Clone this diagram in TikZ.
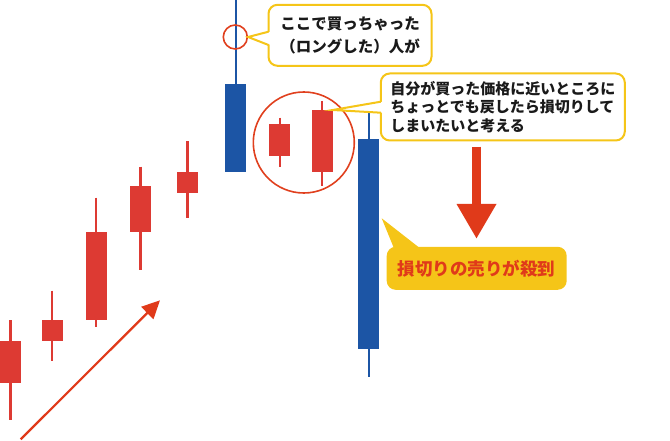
\documentclass[tikz,border=0pt]{standalone}
\usepackage{fontspec}
\newfontfamily\jp{Noto Sans CJK JP}
\usetikzlibrary{arrows.meta,calc}
\definecolor{candlered}{HTML}{DD3A33}
\definecolor{candleblue}{HTML}{1C55A5}
\definecolor{markred}{HTML}{E0401E}
\definecolor{arrowred}{HTML}{E03A1A}
\definecolor{notegold}{HTML}{F5C518}
\definecolor{notetext}{HTML}{1A1A1A}

\begin{document}
\begin{tikzpicture}[x=1pt,y=-1pt,
		body/.style={minimum width=21pt, inner sep=0pt, outer sep=0pt},
		wick/.style={line width=2.4pt},
		note/.style={rounded corners=9pt, align=left, inner sep=0pt, outer sep=0pt, text=notetext}]
		
		\useasboundingbox (0,0) rectangle (670,441);
		
		% Draw the red candles
		\foreach \name/\x/\wt/\bt/\bb/\wb in {c1/10.5/320/340.7/382.7/420, c2/52/290.7/320/340.7/361.3, c3/96/197.7/231.7/320/327.3, c4/140.5/166.7/186/231.7/270, c5/187.5/141.3/172/193/218.3, c6/279.8/117.7/124/156/166.7, c7/322.2/101/110/172/186}{
			\draw[wick, candlered] (\x,\wt) -- (\x,\wb);
			\node[body, fill=candlered, minimum height={\bb-\bt}] (\name) at (\x,{(\bt+\bb)/2}) {};
		}
		
		% Draw the blue candles
		\draw[wick, candleblue, line width=2pt] (235.5,0) -- (235.5,172);
		\node[body, fill=candleblue, minimum height=88pt] (b1) at (235.5,128) {};
		\draw[wick, candleblue, line width=2pt] (368.5,113.3) -- (368.5,376.7);
		\node[body, fill=candleblue, minimum width=21.6pt, minimum height=209.4pt] (b2) at (368.5,244) {};
		
		% Mark the buying points
		\node[draw=markred, line width=1.6pt, circle, minimum size=24pt, inner sep=0pt] (buy) at (235.3,37) {};
		\node[draw=markred, line width=1.6pt, circle, minimum size=101pt, inner sep=0pt] (zone) at (303.8,142.5) {};
		
		% Rising trend
		\coordinate (riseStart) at (20.7,439.3);
		\coordinate (riseEnd) at (160,300.3);
		\draw[arrowred, line width=2.2pt, -{Triangle[length=18pt,width=17pt]}] (riseStart) -- (riseEnd);
		
		% Place the notes
		\node[note, draw=notegold, line width=2pt, fill=white, minimum width=163pt, minimum height=61pt,
			font=\jp\bfseries\fontsize{15.5}{23}\selectfont] (buyNote) at (350,35.3) {ここで買っちゃった\\（ロングした）人が};
		\fill[white] ($(buyNote.west)+(2.5,-3.6)$) -- (buy.east) -- ($(buyNote.west)+(2.5,9.7)$) -- cycle;
		\draw[notegold, line width=2pt] ($(buyNote.west)+(0,-3.6)$) -- (buy.east) -- ($(buyNote.west)+(0,9.7)$);
		
		\node[note, draw=notegold, line width=2pt, fill=white, minimum width=244pt, minimum height=67pt,
			font=\jp\bfseries\fontsize{15}{18.5}\selectfont] (sellNote) at (502.8,107) {自分が買った価格に近いところに\\ちょっとでも戻したら損切りして\\しまいたいと考える};
		\fill[white] ($(sellNote.west)+(2.5,-5.3)$) -- (c7.north east) -- ($(sellNote.west)+(2.5,5.7)$) -- cycle;
		\draw[notegold, line width=2pt] ($(sellNote.west)+(0,-5.3)$) -- (c7.north east) -- ($(sellNote.west)+(0,5.7)$);
		
		\node[note, fill=notegold, text=arrowred, minimum width=180pt, minimum height=43pt,
			font=\jp\bfseries\fontsize{17.5}{20}\selectfont] (rushNote) at (476.7,268.3) {損切りの売りが殺到};
		\coordinate (rushTip) at (381.7,218.3);
		\fill[notegold] ($(rushNote.north west)+(8.3,4)$) -- (rushTip) -- ($(rushNote.north west)+(36.6,4)$) -- cycle;
		
		% Falling arrow
		\coordinate (dropTop) at (476.5,146.7);
		\coordinate (dropTip) at (476.5,238.3);
		\draw[arrowred, line width=8.3pt] (dropTop) -- ($(dropTip)+(0,-30)$);
		\fill[arrowred] ($(dropTip)+(-20,-34.3)$) -- ($(dropTip)+(20,-34.3)$) -- (dropTip) -- cycle;
		
	\end{tikzpicture}
\end{document}
